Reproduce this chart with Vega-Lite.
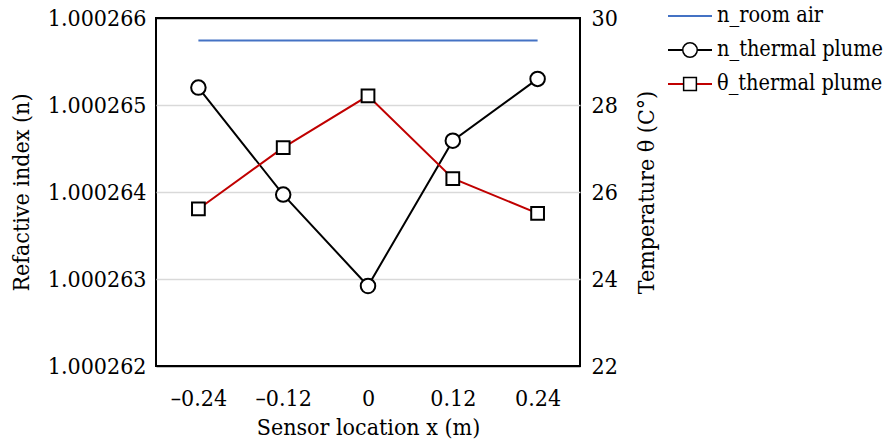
{
  "$schema": "https://vega.github.io/schema/vega-lite/v6.json",
  "width": 424,
  "height": 348,
  "autosize": "none",
  "padding": {"left": 156, "top": 18, "right": 312, "bottom": 79},
  "background": "white",
  "config": {
    "view": {"stroke": "black", "strokeWidth": 2},
    "font": "DejaVu Serif Condensed",
    "axis": {
      "labelFont": "DejaVu Serif Condensed",
      "titleFont": "DejaVu Serif Condensed",
      "labelFontSize": 23,
      "titleFontSize": 23,
      "labelColor": "black",
      "titleColor": "black",
      "titleFontWeight": "normal",
      "ticks": false,
      "domain": false
    },
    "legend": {
      "labelFont": "DejaVu Serif Condensed",
      "labelFontSize": 21.5,
      "labelColor": "black",
      "labelLimit": 400
    }
  },
  "data": {
    "values": [
      {"x": -0.24, "series": "n_room air", "n": 1.00026574},
      {"x": -0.12, "series": "n_room air", "n": 1.00026574},
      {"x": 0, "series": "n_room air", "n": 1.00026574},
      {"x": 0.12, "series": "n_room air", "n": 1.00026574},
      {"x": 0.24, "series": "n_room air", "n": 1.00026574},
      {"x": -0.24, "series": "n_thermal plume", "n": 1.0002652},
      {"x": -0.12, "series": "n_thermal plume", "n": 1.00026397},
      {"x": 0, "series": "n_thermal plume", "n": 1.00026292},
      {"x": 0.12, "series": "n_thermal plume", "n": 1.00026459},
      {"x": 0.24, "series": "n_thermal plume", "n": 1.0002653},
      {"x": -0.24, "series": "θ_thermal plume", "theta": 25.61},
      {"x": -0.12, "series": "θ_thermal plume", "theta": 27.02},
      {"x": 0, "series": "θ_thermal plume", "theta": 28.21},
      {"x": 0.12, "series": "θ_thermal plume", "theta": 26.31},
      {"x": 0.24, "series": "θ_thermal plume", "theta": 25.51}
    ]
  },
  "encoding": {
    "x": {
      "field": "x",
      "type": "ordinal",
      "sort": "ascending",
      "scale": {"type": "point", "padding": 0.5},
      "axis": {
        "title": "Sensor location x (m)",
        "labelAngle": 0,
        "labelPadding": 21,
        "titlePadding": 6,
        "grid": false,
        "labelExpr": "replace(datum.label, '-', '–')"
      }
    }
  },
  "layer": [
    {
      "transform": [{"filter": "datum.series !== 'θ_thermal plume'"}],
      "encoding": {
        "y": {
          "field": "n",
          "type": "quantitative",
          "scale": {"domain": [1.000262, 1.000266], "zero": false, "nice": false},
          "axis": {
            "orient": "left",
            "title": "Refactive index (n)",
            "values": [1.000262, 1.000263, 1.000264, 1.000265, 1.000266],
            "format": ".6f",
            "grid": true,
            "gridColor": {"condition": {"test": "datum.index == 0 || datum.index == 1", "value": "black"}, "value": "#d9d9d9"},
            "gridWidth": 1.5,
            "labelPadding": 10,
            "titlePadding": 14
          }
        }
      },
      "layer": [
        {
          "mark": {"type": "line", "strokeWidth": 2},
          "encoding": {
            "color": {
              "field": "series",
              "type": "nominal",
              "scale": {
                "domain": ["n_room air", "n_thermal plume", "θ_thermal plume"],
                "range": ["#4472C4", "#000000", "#C00000"]
              },
              "legend": {
                "title": null,
                "orient": "none",
                "legendX": 511,
                "legendY": -25,
                "padding": 0,
                "symbolType": "stroke",
                "symbolSize": 1936,
                "symbolStrokeWidth": 2,
                "labelOffset": 4,
                "rowPadding": -0.5
              }
            }
          }
        },
        {
          "transform": [{"filter": "datum.series === 'n_thermal plume'"}],
          "mark": {"type": "point", "filled": true, "fill": "white", "stroke": "black", "strokeWidth": 2, "size": 1936, "opacity": 1},
          "encoding": {
            "shape": {
              "field": "series",
              "type": "nominal",
              "scale": {
                "domain": ["n_room air", "n_thermal plume", "θ_thermal plume", "_"],
                "range": [
                  "M0,0Z",
                  "M-0.33,0A0.33,0.33 0 1,0 0.33,0A0.33,0.33 0 1,0 -0.33,0Z",
                  "M-0.29,-0.29H0.29V0.29H-0.29Z",
                  "M0,0Z"
                ]
              },
              "legend": {
                "title": null,
                "orient": "none",
                "legendX": 511,
                "legendY": -25,
                "padding": 0,
                "symbolSize": 1936,
                "labelOffset": 4,
                "rowPadding": -0.5,
                "labelOpacity": 0,
                "encode": {
                  "symbols": {
                    "update": {
                      "fill": {"value": "white"},
                      "stroke": {"value": "black"},
                      "strokeWidth": {"value": 2},
                      "opacity": {"value": 1}
                    }
                  }
                }
              }
            }
          }
        }
      ]
    },
    {
      "transform": [{"filter": "datum.series === 'θ_thermal plume'"}],
      "encoding": {
        "y": {
          "field": "theta",
          "type": "quantitative",
          "scale": {"domain": [22, 30], "zero": false, "nice": false},
          "axis": {
            "orient": "right",
            "title": "Temperature θ (C°)",
            "titleAngle": -90,
            "titleBaseline": "top",
            "values": [22, 24, 26, 28, 30],
            "grid": false,
            "labelPadding": 11,
            "titlePadding": 18
          }
        }
      },
      "layer": [
        {
          "mark": {"type": "line", "strokeWidth": 2},
          "encoding": {
            "color": {"field": "series", "type": "nominal"}
          }
        },
        {
          "mark": {"type": "point", "filled": true, "fill": "white", "stroke": "black", "strokeWidth": 2, "size": 1936, "opacity": 1},
          "encoding": {
            "shape": {"field": "series", "type": "nominal"}
          }
        }
      ]
    }
  ],
  "resolve": {"scale": {"y": "independent"}}
}
